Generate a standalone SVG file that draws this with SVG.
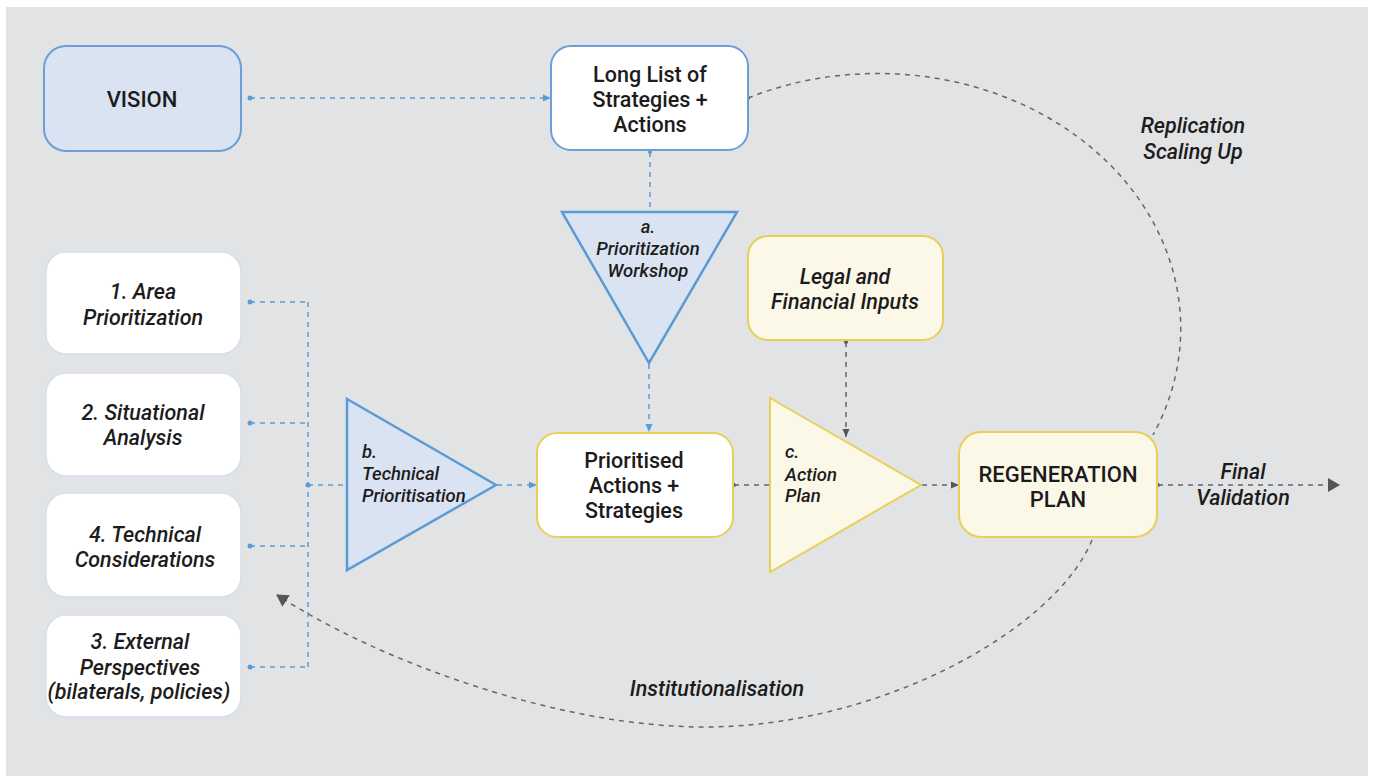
<svg xmlns="http://www.w3.org/2000/svg" width="1375" height="776" viewBox="0 0 1375 776">
<style>
.t{font-family:Roboto,"Liberation Sans",sans-serif;font-weight:500;fill:#1c1c1c;text-anchor:middle}
.i{font-style:italic}
.s20{font-size:21.5px}
.s17{font-size:18.5px}
.bl{fill:none;stroke:#5b9bd5;stroke-width:1.5;stroke-dasharray:5 5}
.gr{fill:none;stroke:#666;stroke-width:1.5;stroke-dasharray:5 5}
.bd{fill:#5b9bd5}
.gd{fill:#555}
.nb{fill:#dae3f2;stroke:#6a9fd8;stroke-width:2}
.nw{fill:#fff;stroke:#6a9fd8;stroke-width:2}
.nl{fill:#fff;stroke:#d3dfee;stroke-width:1.5}
.ny{fill:#fbf8e8;stroke:#e8cf5a;stroke-width:2}
.nyw{fill:#fff;stroke:#e8cf5a;stroke-width:2}
.tb{fill:#dae3f2;stroke:#5b9bd5;stroke-width:2.5;stroke-linejoin:miter}
.ty{fill:#fbf8e8;stroke:#e8cf5a;stroke-width:2}
</style>
<defs>
<marker id="ab" viewBox="0 0 8 8" refX="8" refY="4" markerWidth="8" markerHeight="8" markerUnits="userSpaceOnUse" orient="auto"><path d="M0,0.5 L8,4 L0,7.5z" fill="#5b9bd5"/></marker>
<marker id="ag" viewBox="0 0 8 8" refX="8" refY="4" markerWidth="8" markerHeight="8" markerUnits="userSpaceOnUse" orient="auto"><path d="M0,0.5 L8,4 L0,7.5z" fill="#555"/></marker>
<marker id="aG" viewBox="0 0 12 14" refX="11" refY="7" markerWidth="12" markerHeight="14" markerUnits="userSpaceOnUse" orient="auto"><path d="M0,0 L12,7 L0,14z" fill="#555"/></marker>
</defs>
<rect x="0" y="0" width="1375" height="776" fill="#fff"/>
<rect x="6" y="7" width="1362" height="769" fill="#e2e3e5"/>

<g id="connectors">
<circle class="bd" cx="250" cy="98" r="2.5"/>
<path class="bl" d="M250,98 H551" marker-end="url(#ab)"/>
<circle class="bd" cx="650" cy="152" r="2"/>
<path class="bl" d="M650,152 V211"/>
<path class="bl" d="M649,364 V432" marker-end="url(#ab)"/>
<circle class="bd" cx="250" cy="302" r="2.5"/>
<circle class="bd" cx="250" cy="423" r="2.5"/>
<circle class="bd" cx="250" cy="546" r="2.5"/>
<circle class="bd" cx="250" cy="667" r="2.5"/>
<path class="bl" d="M250,302 H308 M250,423 H308 M250,546 H308 M250,667 H308 M308,302 V667"/>
<circle class="bd" cx="308" cy="485" r="2.5"/>
<path class="bl" d="M308,485 H347"/>
<path class="bl" d="M497,485 H537" marker-end="url(#ab)"/>
<circle class="gd" cx="734" cy="485" r="2"/>
<path class="gr" d="M734,485 H770"/>
<circle class="gd" cx="846" cy="342" r="2"/>
<path class="gr" d="M846,342 V437" marker-end="url(#ag)"/>
<path class="gr" d="M922,485 H959" marker-end="url(#ag)"/>
<circle class="gd" cx="1158" cy="485" r="2"/>
<path class="gr" d="M1158,485 H1339" marker-end="url(#aG)"/>
<circle class="gd" cx="748" cy="98" r="2"/>
<path class="gr" d="M748,98 A303,255 0 0,1 1153,435"/>
<path class="gr" d="M1092,540 C1055,630 880,727 704,727 C560,727 380,662 277,595" marker-end="url(#aG)"/>
</g>

<g id="vision"><rect class="nb" x="44" y="46" width="197" height="105" rx="22"/><text class="t" x="142" y="107" font-size="22">VISION</text></g>

<g id="longlist"><rect class="nw" x="551" y="46" width="197" height="104" rx="20"/>
<text class="t s20" x="650" y="82">Long List of</text><text class="t s20" x="650" y="107">Strategies +</text><text class="t s20" x="650" y="132">Actions</text></g>

<g id="workshop"><polygon class="tb" points="562,212 737,212 649,363"/>
<text class="t i s17" x="648" y="233">a.</text><text class="t i s17" x="648" y="255">Prioritization</text><text class="t i s17" x="648" y="277">Workshop</text></g>

<g id="area"><rect class="nl" x="46" y="252" width="195" height="102" rx="20"/>
<text class="t i s20" x="143" y="299">1. Area</text><text class="t i s20" x="143" y="325">Prioritization</text></g>

<g id="situational"><rect class="nl" x="46" y="373" width="195" height="103" rx="20"/>
<text class="t i s20" x="143" y="420">2. Situational</text><text class="t i s20" x="143" y="445">Analysis</text></g>

<g id="technical"><rect class="nl" x="46" y="493" width="195" height="104" rx="20"/>
<text class="t i s20" x="145" y="542">4. Technical</text><text class="t i s20" x="145" y="567">Considerations</text></g>

<g id="external"><rect class="nl" x="46" y="615" width="195" height="102" rx="20"/>
<text class="t i s20" x="140" y="649">3. External</text><text class="t i s20" x="140" y="675">Perspectives</text><text class="t i s20" x="139" y="699" font-size="20.5">(bilaterals, policies)</text></g>

<g id="techprio"><polygon class="tb" points="347,399 496,485 347,570"/>
<text class="t i s17" x="362" y="458" style="text-anchor:start">b.</text>
<text class="t i s17" x="362" y="480" style="text-anchor:start">Technical</text>
<text class="t i s17" x="362" y="502" style="text-anchor:start">Prioritisation</text></g>

<g id="prioritised"><rect class="nyw" x="537" y="433" width="196" height="104" rx="20"/>
<text class="t s20" x="634" y="468">Prioritised</text><text class="t s20" x="634" y="493">Actions +</text><text class="t s20" x="634" y="518">Strategies</text></g>

<g id="legal"><rect class="ny" x="748" y="236" width="195" height="104" rx="20"/>
<text class="t i s20" x="845" y="284">Legal and</text><text class="t i s20" x="845" y="309">Financial Inputs</text></g>

<g id="actionplan"><polygon class="ty" points="770,398 921,485 770,572"/>
<text class="t i s17" x="785" y="458" style="text-anchor:start">c.</text>
<text class="t i s17" x="785" y="481" style="text-anchor:start">Action</text>
<text class="t i s17" x="785" y="502" style="text-anchor:start">Plan</text></g>

<g id="regen"><rect class="ny" x="959" y="432" width="198" height="105" rx="22"/>
<text class="t" x="1058" y="482" font-size="22">REGENERATION</text><text class="t" x="1058" y="507" font-size="22">PLAN</text></g>

<g id="labels">
<text class="t i s20" x="1193" y="133">Replication</text><text class="t i s20" x="1193" y="159">Scaling Up</text>
<text class="t i s20" x="1243" y="479">Final</text><text class="t i s20" x="1243" y="505">Validation</text>
<text class="t i s20" x="717" y="696">Institutionalisation</text>
</g>
</svg>
